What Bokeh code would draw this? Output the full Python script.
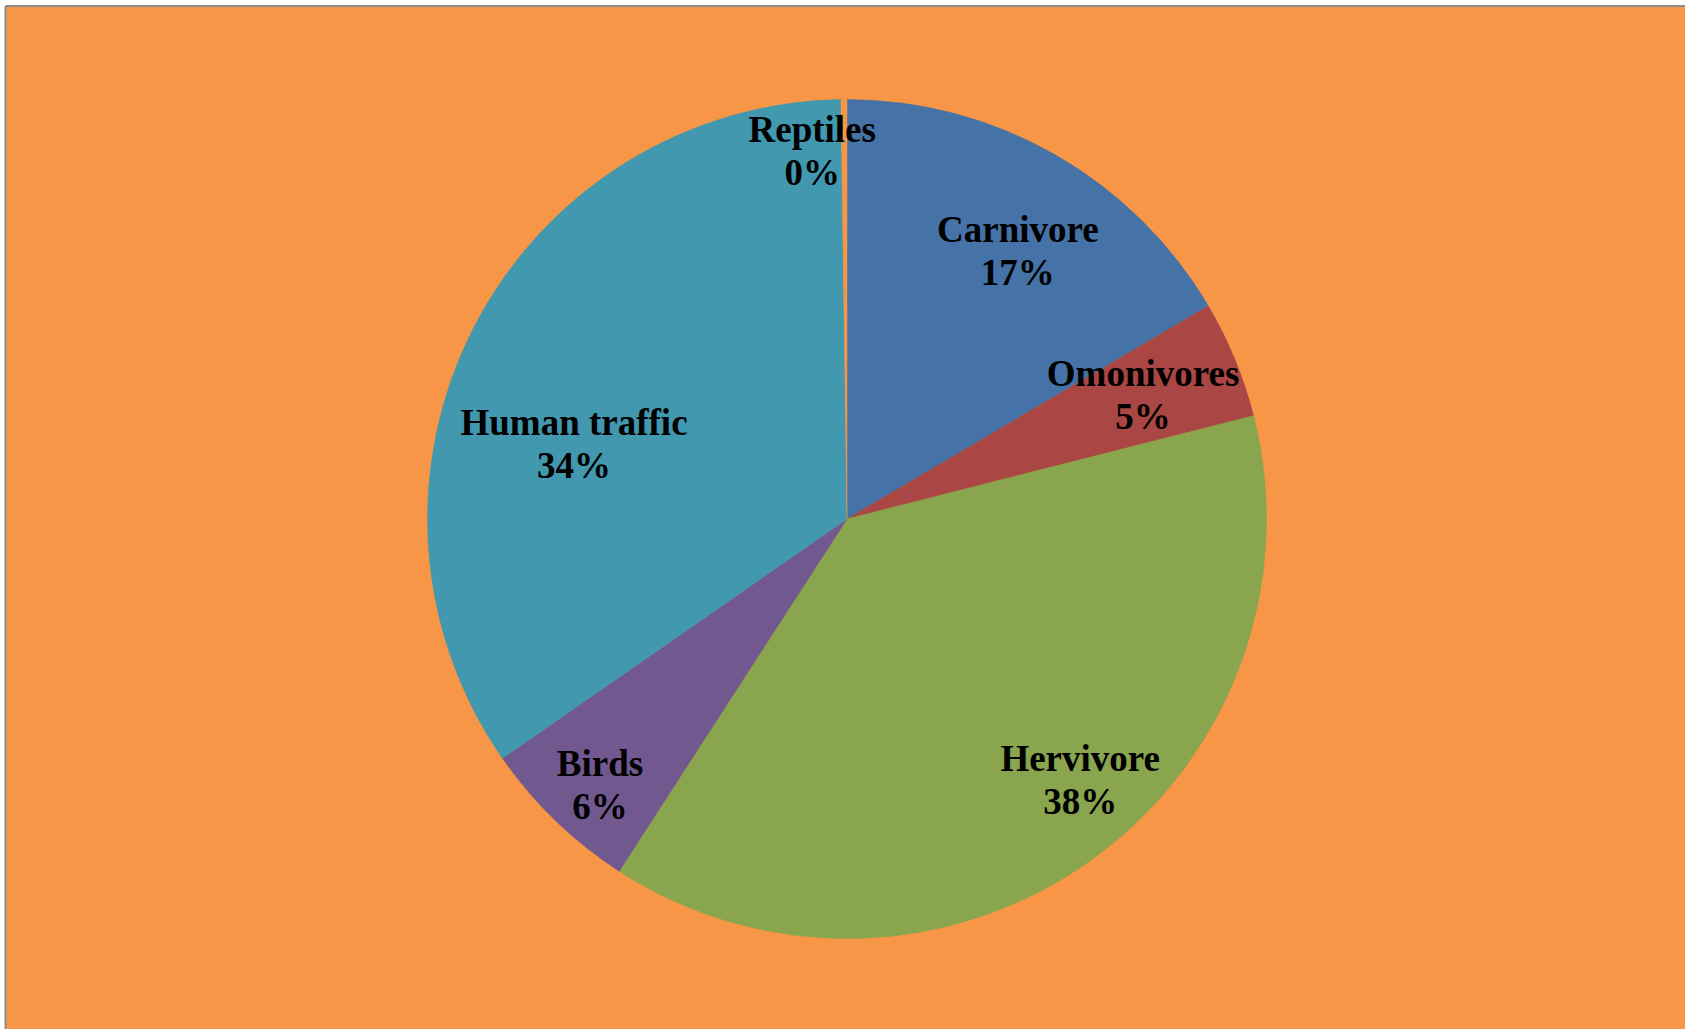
import math
from bokeh.plotting import figure
from bokeh.models import Range1d, ColumnDataSource
from bokeh.core.properties import value
from bokeh.embed import file_html
from bokeh.resources import INLINE

# ---- data ----
categories = ["Carnivore", "Omonivores", "Hervivore", "Birds", "Human traffic", "Reptiles"]
shares = [16.52, 4.52, 38.1, 6.2, 34.43, 0.23]
colors = ["#4572A7", "#AA4643", "#89A54E", "#71588F", "#4198AF", "#F79646"]

# label placement (style): radius fraction and angle (deg, clockwise from top)
label_rfrac = [0.758, 0.765, 0.834, 0.865, 0.675, 0.881]
label_deg = [32.5, 67.3, 138.2, 222.9, 285.4, 354.6]

W, H = 1685, 1029
BG = "#F79646"
cx, cy_screen, R = 846.5, 518.5, 419.5
cy = H - cy_screen

p = figure(width=W, height=H, output_backend="svg", toolbar_location=None,
           x_range=Range1d(0, W), y_range=Range1d(0, H),
           min_border=0, min_border_left=0, min_border_right=0,
           min_border_top=0, min_border_bottom=0)
p.axis.visible = False
p.grid.visible = False
p.outline_line_color = None
p.background_fill_color = "white"
p.border_fill_color = "white"

# chart area background with grey border on top/left
p.quad(left=[5.5], right=[W + 5], bottom=[-5], top=[H - 5.5],
       fill_color=BG, line_color=None)
p.line(x=[5, 5], y=[-5, H - 5.5], line_color="#8C8C8C", line_width=2)
p.line(x=[5, W + 5], y=[H - 5.5, H - 5.5], line_color="#8C8C8C", line_width=2)

total = sum(shares)
starts, ends = [], []
cum = 0.0
for v in shares:
    starts.append(math.pi / 2 - 2 * math.pi * cum / total)
    cum += v
    ends.append(math.pi / 2 - 2 * math.pi * cum / total)

src = ColumnDataSource(dict(start=starts, end=ends, color=colors, cat=categories))
p.wedge(x=cx, y=cy, radius=R, start_angle="start", end_angle="end",
        direction="clock", fill_color="color", line_color="color", line_width=0.5,
        source=src)

texts, lx, ly = [], [], []
for c, v, rf, d in zip(categories, shares, label_rfrac, label_deg):
    pct = int(math.floor(v / total * 100 + 0.5))
    texts.append(f"{c}\n{pct}%")
    a = math.radians(d)
    lx.append(cx + rf * R * math.sin(a))
    ly.append(cy + rf * R * math.cos(a))

p.text(x=lx, y=ly, text=texts, text_align="center", text_baseline="middle",
       text_font=value("Liberation Serif"), text_font_style="bold",
       text_font_size="37px", text_color="black", text_line_height=1.05)

open("out.html", "w").write(file_html(p, INLINE))
